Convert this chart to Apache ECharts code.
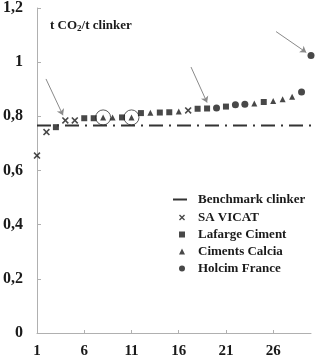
<!DOCTYPE html>
<html>
<head>
<meta charset="utf-8">
<script src="https://cdn.jsdelivr.net/npm/echarts@6/dist/echarts.min.js"></script>
<style>
  html, body { margin: 0; padding: 0; background: #fff; }
  #chart { width: 315px; height: 362px; }
</style>
</head>
<body>
<div id="chart"></div>
<script>
// rank of each plant (x) and emissions in t CO2 / t clinker (y)
const savicatX = [1, 2, 4, 5, 17];
const savicatY = [0.655, 0.742, 0.785, 0.785, 0.822];
const lafargeX = [3, 6, 7, 10, 12, 14, 15, 18, 19, 21, 25];
const lafargeY = [0.760, 0.793, 0.793, 0.796, 0.812, 0.814, 0.815, 0.828, 0.829, 0.836, 0.853];
const calciaX = [8, 9, 11, 13, 16, 24, 26, 27, 28];
const calciaY = [0.796, 0.796, 0.796, 0.813, 0.818, 0.847, 0.857, 0.863, 0.872];
const holcimX = [20, 22, 23, 29, 30];
const holcimY = [0.831, 0.843, 0.845, 0.890, 1.025];
const benchmark = 0.766;
const circled = [8, 11]; // calcia points circled in the figure
// annotation arrows [fromX, fromY, toX, toY] in data units
const arrows = [
    [1.95, 0.938, 3.75, 0.804],
    [17.3, 0.982, 19.0, 0.851],
    [26.3, 1.113, 29.5, 1.036]
];
const xTicks = [1, 6, 11, 16, 21, 26];

const FONT = '"Liberation Serif", "DejaVu Serif", serif';
const INK = '#1a1a1a';
const AXIS = '#b0b0b0';

function pairs(xs, ys) {
    return xs.map((x, i) => [x, ys[i]]);
}

// X drawn as a filled cross so it survives as a symbol
const crossPath = 'path://M0,1.6L1.6,0L5,3.4L8.4,0L10,1.6L6.6,5L10,8.4L8.4,10L5,6.6L1.6,10L0,8.4L3.4,5Z';

const circledData = circled.map(x => [x, calciaY[calciaX.indexOf(x)]]);

const legendText = {
    fontFamily: FONT, fontWeight: 'bold', fontSize: 13, color: INK, lineHeight: 13
};

const option = {
    animation: false,
    backgroundColor: '#fff',
    title: {
        text: '{a|t CO}{s|2}{a|/t clinker}',
        left: 45,
        top: 13,
        textStyle: {
            rich: {
                a: { fontFamily: FONT, fontWeight: 'bold', fontSize: 13, color: INK },
                s: { fontFamily: FONT, fontWeight: 'bold', fontSize: 9, color: INK, padding: [6, 0, 0, 0] }
            }
        }
    },
    grid: { left: 37, right: 4, top: 3, bottom: 29 },
    legend: [
        {
            orient: 'vertical',
            left: 173,
            top: 193,
            padding: 0,
            itemWidth: 14,
            itemHeight: 2,
            data: [{ name: 'Benchmark clinker', icon: 'rect' }],
            textStyle: Object.assign({ padding: [0, 0, 0, 6] }, legendText)
        },
        {
            orient: 'vertical',
            left: 179,
            top: 211,
            padding: 0,
            itemWidth: 6,
            itemHeight: 6,
            itemGap: 4,
            data: ['SA VICAT', 'Lafarge Ciment', 'Ciments Calcia', 'Holcim France'],
            textStyle: Object.assign({ padding: [0, 0, 0, 8] }, legendText)
        }
    ],
    xAxis: {
        type: 'value',
        min: 1,
        max: 30,
        splitLine: { show: false },
        axisLine: { lineStyle: { color: AXIS, width: 1 } },
        axisTick: { inside: true, length: 3, customValues: xTicks, lineStyle: { color: AXIS } },
        axisLabel: {
            customValues: xTicks,
            margin: 11,
            fontFamily: FONT, fontWeight: 'bold', fontSize: 15, color: INK
        }
    },
    yAxis: {
        type: 'value',
        min: 0,
        max: 1.2,
        interval: 0.2,
        splitLine: { show: false },
        axisLine: { show: true, lineStyle: { color: AXIS, width: 1 } },
        axisTick: { show: true, inside: true, length: 4, lineStyle: { color: AXIS } },
        axisLabel: {
            margin: 14,
            fontFamily: FONT, fontWeight: 'bold', fontSize: 16, color: INK,
            formatter: v => String(Math.round(v * 10) / 10).replace('.', ',')
        }
    },
    series: [
        {
            name: 'Benchmark clinker',
            type: 'line',
            symbol: 'none',
            data: [[1, benchmark], [30, benchmark]],
            lineStyle: { color: '#333', width: 2, type: [14, 6, 2, 6] },
            itemStyle: { color: '#333' },
            markLine: {
                silent: true,
                symbol: ['none', 'arrow'],
                symbolSize: 6,
                label: { show: false },
                lineStyle: { color: '#8a8a8a', width: 1, type: 'solid' },
                data: arrows.map(a => [{ coord: [a[0], a[1]] }, { coord: [a[2], a[3]] }])
            }
        },
        {
            name: 'SA VICAT',
            type: 'scatter',
            symbol: crossPath,
            symbolSize: 7,
            itemStyle: { color: INK },
            data: pairs(savicatX, savicatY)
        },
        {
            name: 'Lafarge Ciment',
            type: 'scatter',
            symbol: 'rect',
            symbolSize: 6,
            itemStyle: { color: INK },
            data: pairs(lafargeX, lafargeY)
        },
        {
            name: 'Ciments Calcia',
            type: 'scatter',
            symbol: 'triangle',
            symbolSize: 6,
            itemStyle: { color: INK },
            data: pairs(calciaX, calciaY)
        },
        {
            name: 'Holcim France',
            type: 'scatter',
            symbol: 'circle',
            symbolSize: 7,
            itemStyle: { color: INK },
            data: pairs(holcimX, holcimY)
        },
        {
            name: 'circled',
            type: 'scatter',
            symbol: 'circle',
            symbolSize: 15,
            z: 1,
            silent: true,
            itemStyle: { color: 'transparent', borderColor: '#333', borderWidth: 1 },
            data: circledData
        }
    ]
};

const chart = echarts.init(document.getElementById('chart'));
chart.setOption(option);
</script>
</body>
</html>
